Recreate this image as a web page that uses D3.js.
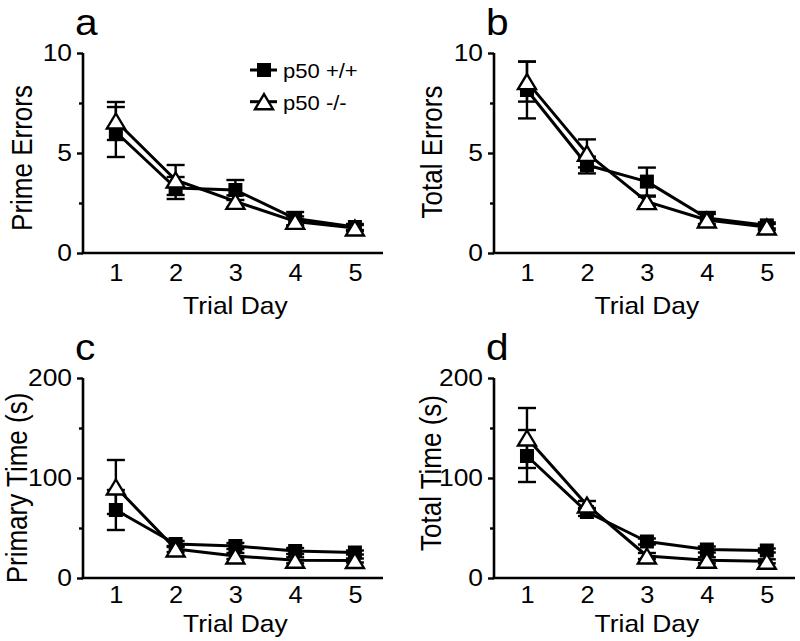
<!DOCTYPE html>
<html>
<head>
<meta charset="utf-8">
<script src="https://cdn.jsdelivr.net/npm/d3@7"></script>
<style>
  html, body { margin: 0; padding: 0; background: #fff; }
  svg { display: block; }
  text { font-family: "Liberation Sans", Arial, Helvetica, sans-serif; fill: #000; }
</style>
</head>
<body>
<svg id="chart" width="800" height="641"></svg>
<script>
// ---------- data ----------
const days = [1, 2, 3, 4, 5];
const seriesNames = ["p50 +/+", "p50 -/-"];
const panelLetters = ["a", "b", "c", "d"];
const yTitles = ["Prime Errors", "Total Errors", "Primary Time (s)", "Total Time (s)"];
const xTitle = "Trial Day";
const errTicks = [0, 5, 10];
const errMinorTicks = [2.5, 7.5];
const timeTicks = [0, 100, 200];
const timeMinorTicks = [50, 150];

// Prime errors (panel a)
const primeWT = [6.05, 3.25, 3.15, 1.72, 1.30];
const primeWTerr = [1.25, 0.55, 0.50, 0.33, 0.15];
const primeKO = [6.60, 3.65, 2.58, 1.58, 1.25];
const primeKOerr = [0.95, 0.75, 0.30, 0.25, 0.15];

// Total errors (panel b)
const totErrWT = [8.15, 4.40, 3.57, 1.75, 1.38];
const totErrWTerr = [1.42, 0.42, 0.70, 0.30, 0.15];
const totErrKO = [8.57, 4.98, 2.57, 1.65, 1.30];
const totErrKOerr = [1.00, 0.70, 0.25, 0.30, 0.15];

// Primary time (panel c)
const primTimeWT = [68, 34, 32, 27, 25.5];
const primTimeWTerr = [20, 3, 3, 3, 2];
const primTimeKO = [91, 29, 22, 17.7, 17.5];
const primTimeKOerr = [27, 3, 3, 3, 2];

// Total time (panel d)
const totTimeWT = [122, 66, 36.5, 28.5, 27.5];
const totTimeWTerr = [26, 4, 3, 3, 2];
const totTimeKO = [140, 73, 22, 17.7, 16.7];
const totTimeKOerr = [30, 4, 3, 3, 2];

// ---------- layout ----------
const panels = [
  { letter: panelLetters[0], title: yTitles[0], wt: primeWT, wtErr: primeWTerr, ko: primeKO, koErr: primeKOerr,
    yMax: 10, ticks: errTicks, minor: errMinorTicks, left: 83, right: 383, top: 53, bottom: 253,
    xPad: 12, titleBase: 314, yTitleX: 32, yTitleY: 158, legend: true },
  { letter: panelLetters[1], title: yTitles[1], wt: totErrWT, wtErr: totErrWTerr, ko: totErrKO, koErr: totErrKOerr,
    yMax: 10, ticks: errTicks, minor: errMinorTicks, left: 494, right: 795, top: 53, bottom: 253,
    xPad: 12, titleBase: 314, yTitleX: 442, yTitleY: 152, legend: false },
  { letter: panelLetters[2], title: yTitles[2], wt: primTimeWT, wtErr: primTimeWTerr, ko: primTimeKO, koErr: primTimeKOerr,
    yMax: 200, ticks: timeTicks, minor: timeMinorTicks, left: 83, right: 383, top: 378, bottom: 578,
    xPad: 9, titleBase: 632, yTitleX: 27, yTitleY: 488, legend: false },
  { letter: panelLetters[3], title: yTitles[3], wt: totTimeWT, wtErr: totTimeWTerr, ko: totTimeKO, koErr: totTimeKOerr,
    yMax: 200, ticks: timeTicks, minor: timeMinorTicks, left: 494, right: 795, top: 378, bottom: 578,
    xPad: 9, titleBase: 632, yTitleX: 441, yTitleY: 473, legend: false }
];

const svg = d3.select("#chart");
const SQ = 14;          // square side
const TW = 18, TH = 15; // triangle width/height
const CAP = 9;          // half cap width
const STRETCH = 1.1;    // horizontal glyph stretch seen in the reference

function triPath(cx, cy) {
  return `M${cx},${cy - TH / 2}L${cx + TW / 2},${cy + TH / 2}L${cx - TW / 2},${cy + TH / 2}Z`;
}

panels.forEach(p => {
  const g = svg.append("g");
  const x = d3.scaleLinear().domain([0.45, 5.47]).range([p.left, p.right]);
  const y = d3.scaleLinear().domain([0, p.yMax]).range([p.bottom, p.top]);

  // panel letter
  g.append("text").attr("transform", `translate(${p.left - 8},${p.top - 18}) scale(${STRETCH},1)`)
    .style("font-size", "37px").text(p.letter);

  // y axis (major)
  const ya = g.append("g").attr("transform", `translate(${p.left},0)`)
    .call(d3.axisLeft(y).tickValues(p.ticks).tickSize(6).tickPadding(4).tickFormat(d3.format("d")));
  ya.select(".domain").attr("stroke", "#000").attr("stroke-width", 2.6)
    .attr("d", `M0,${p.top}V${p.bottom}`);
  ya.selectAll(".tick line").attr("stroke", "#000").attr("stroke-width", 2.4);
  ya.selectAll(".tick text").style("font-size", "24px").attr("font-family", null)
    .attr("transform", `scale(${STRETCH},1)`);
  // minor ticks
  const ym = g.append("g").attr("transform", `translate(${p.left},0)`)
    .call(d3.axisLeft(y).tickValues(p.minor).tickSize(4).tickFormat(""));
  ym.select(".domain").remove();
  ym.selectAll(".tick line").attr("stroke", "#000").attr("stroke-width", 2.4);

  // x axis
  const xa = g.append("g").attr("transform", `translate(0,${p.bottom})`)
    .call(d3.axisBottom(x).tickValues(days).tickSize(0).tickPadding(p.xPad).tickFormat(d3.format("d")));
  xa.select(".domain").attr("stroke", "#000").attr("stroke-width", 2.6)
    .attr("d", `M${p.left - 1.3},0H${p.right}`);
  xa.selectAll(".tick text").style("font-size", "23px").attr("font-family", null)
    .attr("transform", `scale(${STRETCH},1)`);

  // axis titles
  g.append("text").attr("transform", `translate(${x(3)},${p.titleBase}) scale(${STRETCH},1)`)
    .attr("text-anchor", "middle").style("font-size", "24px").text(xTitle);
  g.append("text").attr("transform", `translate(${p.yTitleX},${p.yTitleY}) rotate(-90) scale(1,1.12)`)
    .attr("text-anchor", "middle").style("font-size", "26px").text(p.title);

  const line = d3.line().x((d, i) => x(days[i])).y(d => y(d));
  const series = [
    { vals: p.wt, err: p.wtErr },
    { vals: p.ko, err: p.koErr }
  ];

  // lines
  series.forEach(s => {
    g.append("path").attr("d", line(s.vals)).attr("fill", "none")
      .attr("stroke", "#000").attr("stroke-width", 3).attr("stroke-linejoin", "round");
  });
  // error bars
  series.forEach(s => {
    const eb = g.append("g").attr("stroke", "#000").attr("stroke-width", 2.4);
    s.vals.forEach((v, i) => {
      const cx = x(days[i]);
      const y1 = y(v + s.err[i]), y0 = y(v - s.err[i]);
      eb.append("line").attr("x1", cx).attr("x2", cx).attr("y1", y1).attr("y2", y0);
      eb.append("line").attr("x1", cx - CAP).attr("x2", cx + CAP).attr("y1", y1).attr("y2", y1);
      eb.append("line").attr("x1", cx - CAP).attr("x2", cx + CAP).attr("y1", y0).attr("y2", y0);
    });
  });
  // markers: squares then triangles
  g.append("g").selectAll("rect").data(p.wt).join("rect")
    .attr("x", (d, i) => x(days[i]) - SQ / 2).attr("y", d => y(d) - SQ / 2)
    .attr("width", SQ).attr("height", SQ).attr("fill", "#000");
  g.append("g").selectAll("path").data(p.ko).join("path")
    .attr("d", (d, i) => triPath(x(days[i]), y(d)))
    .attr("fill", "#fff").attr("stroke", "#000").attr("stroke-width", 2.4).attr("stroke-linejoin", "miter");

  // legend
  if (p.legend) {
    const lg = g.append("g");
    const ly = d3.scalePoint().domain(seriesNames).range([70, 101.7]);
    seriesNames.forEach((name, k) => {
      const yy = ly(name);
      lg.append("line").attr("x1", 250).attr("x2", 277).attr("y1", yy).attr("y2", yy)
        .attr("stroke", "#000").attr("stroke-width", 3);
      if (k === 0) {
        lg.append("rect").attr("x", 264 - SQ / 2).attr("y", yy - SQ / 2).attr("width", SQ).attr("height", SQ).attr("fill", "#000");
      } else {
        lg.append("path").attr("d", triPath(264, yy)).attr("fill", "#fff").attr("stroke", "#000").attr("stroke-width", 2.4);
      }
      lg.append("text").attr("transform", `translate(283,${yy + 8}) scale(1.05,1)`)
        .style("font-size", "21px").text(name);
    });
  }
});
</script>
</body>
</html>
